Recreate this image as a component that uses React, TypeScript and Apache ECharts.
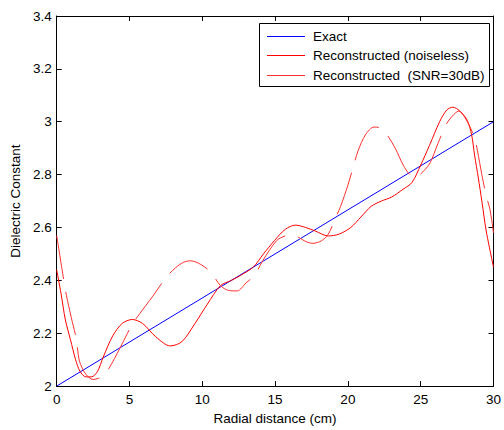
import React, { useEffect, useRef } from "react";
import * as echarts from "echarts";

const xTicks = [0, 5, 10, 15, 20, 25, 30];
const yTicks = [2, 2.2, 2.4, 2.6, 2.8, 3, 3.2, 3.4];

const exactX = [0, 30];
const exactY = [2, 3];

const noiselessX = [0, 0.3, 0.6, 0.95, 1.3, 1.6, 2.0, 2.4, 2.8, 3.2, 3.85, 4.5, 5.2, 5.9, 6.8, 7.8, 8.6, 9.5, 10.35, 11.25, 12.0, 12.6, 13.5, 14.2, 14.95, 15.7, 16.4, 17.1, 17.75, 18.65, 19.4, 20.2, 20.9, 21.6, 22.3, 23.0, 23.8, 24.4, 25.0, 25.6, 26.3, 26.8, 27.2, 27.7, 28.2, 28.5, 28.7, 28.96, 29.2, 29.5, 30];
const noiselessY = [2.44, 2.35, 2.25, 2.175, 2.1, 2.056, 2.035, 2.035, 2.055, 2.11, 2.19, 2.237, 2.252, 2.237, 2.187, 2.152, 2.168, 2.237, 2.31, 2.38, 2.4, 2.418, 2.45, 2.5, 2.55, 2.593, 2.609, 2.6, 2.587, 2.568, 2.575, 2.6, 2.64, 2.68, 2.7, 2.715, 2.745, 2.77, 2.836, 2.91, 3.0, 3.045, 3.055, 3.04, 3.005, 2.95, 2.874, 2.787, 2.7, 2.587, 2.45];

const noisyX = [0, 0.49, 0.67, 1.0, 1.34, 1.57, 2.0, 2.5, 2.9, 3.3, 3.8, 4.5, 5.15, 5.65, 6.6, 7.5, 8.15, 8.7, 9.2, 9.9, 10.6, 11.25, 11.8, 12.4, 13.0, 13.6, 14.15, 15.1, 15.7, 16.2, 16.7, 17.1, 17.6, 18.2, 18.65, 19.1, 19.5, 20.0, 20.4, 20.7, 21.2, 21.8, 22.3, 22.7, 23.25, 23.8, 24.25, 24.7, 24.9, 25.6, 26.2, 26.75, 27.15, 27.6, 28.1, 28.7, 28.9, 29.2, 29.5, 29.75, 30];
const noisyY = [2.57, 2.4, 2.343, 2.26, 2.18, 2.094, 2.045, 2.025, 2.03, 2.044, 2.087, 2.16, 2.23, 2.27, 2.34, 2.41, 2.447, 2.468, 2.474, 2.46, 2.43, 2.38, 2.362, 2.36, 2.39, 2.42, 2.474, 2.55, 2.568, 2.572, 2.56, 2.547, 2.54, 2.55, 2.574, 2.63, 2.68, 2.76, 2.836, 2.89, 2.95, 2.98, 2.975, 2.95, 2.9, 2.836, 2.8, 2.79, 2.797, 2.84, 2.92, 2.99, 3.02, 3.04, 3.01, 2.94, 2.89, 2.8, 2.72, 2.67, 2.58];

const seriesNames = ["Exact", "Reconstructed (noiseless)", "Reconstructed  (SNR=30dB)"];
const seriesColors = ["#0000ff", "#ff0000", "#ff3030"];

const zip = (xs: number[], ys: number[]) => xs.map((x, i) => [x, ys[i]]);

const FONT = "Liberation Sans, Arial, sans-serif";

// legend layout (drawn with graphic elements)
const LEG_BOX = { x: 259.5, y: 23.5, width: 230, height: 63 };
const LEG_ROWS_Y = [36.5, 55.5, 75.5];
const LEG_ICON_X = [267, 305];
const LEG_TEXT_X = 313;

export default function App() {
  const ref = useRef<HTMLDivElement>(null);
  useEffect(() => {
    if (!ref.current) return;
    const chart = echarts.init(ref.current, null, { renderer: "svg" });
    const axisCommon = {
      type: "value" as const,
      axisLine: { show: true, onZero: false, lineStyle: { color: "#000", width: 1 } },
      axisTick: { show: true, inside: true, length: 5, lineStyle: { color: "#000" } },
      splitLine: { show: false },
    };
    const legendGraphic: any[] = [
      {
        type: "rect",
        z: 100,
        silent: true,
        shape: LEG_BOX,
        style: { fill: "#fff", stroke: "#000", lineWidth: 1 },
      },
    ];
    seriesNames.forEach((n, i) => {
      const y = LEG_ROWS_Y[i];
      legendGraphic.push({
        type: "line",
        z: 101,
        silent: true,
        shape: { x1: LEG_ICON_X[0], y1: y, x2: LEG_ICON_X[1], y2: y },
        style: { stroke: seriesColors[i], lineWidth: 1 },
      });
      legendGraphic.push({
        type: "text",
        z: 101,
        silent: true,
        x: LEG_TEXT_X,
        y: y,
        style: {
          text: n,
          fontFamily: FONT,
          fontSize: 13.5,
          fill: "#000",
          verticalAlign: "middle",
          align: "left",
        },
      });
    });
    chart.setOption({
      animation: false,
      backgroundColor: "#fff",
      color: seriesColors,
      grid: { left: 53, top: 16, width: 446, height: 374, containLabel: false },
      graphic: legendGraphic,
      xAxis: [
        {
          ...axisCommon,
          min: 0,
          max: 30,
          interval: 5,
          position: "bottom",
          name: "Radial distance (cm)",
          nameLocation: "middle",
          nameGap: 24,
          nameTextStyle: { fontFamily: FONT, fontSize: 13.5, color: "#000", verticalAlign: "top" },
          axisLabel: { fontFamily: FONT, fontSize: 13.5, color: "#000", margin: 6, formatter: (v: number) => (xTicks.includes(v) ? String(v) : "") },
        },
        {
          ...axisCommon,
          min: 0,
          max: 30,
          interval: 5,
          position: "top",
          axisLabel: { show: false },
        },
      ],
      yAxis: [
        {
          ...axisCommon,
          min: 2,
          max: 3.4,
          interval: 0.2,
          position: "left",
          name: "Dielectric Constant",
          nameLocation: "middle",
          nameGap: 30,
          nameTextStyle: { fontFamily: FONT, fontSize: 13.5, color: "#000" },
          axisLabel: { fontFamily: FONT, fontSize: 13.5, color: "#000", margin: 5, formatter: (v: number) => { const t = yTicks.find((y) => Math.abs(y - v) < 1e-6); return t === undefined ? "" : String(t); } },
        },
        {
          ...axisCommon,
          min: 2,
          max: 3.4,
          interval: 0.2,
          position: "right",
          axisLabel: { show: false },
        },
      ],
      series: [
        {
          name: seriesNames[0],
          type: "line",
          data: zip(exactX, exactY),
          symbol: "none",
          lineStyle: { color: seriesColors[0], width: 1 },
          itemStyle: { color: seriesColors[0] },
        },
        {
          name: seriesNames[1],
          type: "line",
          data: zip(noiselessX, noiselessY),
          symbol: "none",
          smooth: 0.3,
          lineStyle: { color: seriesColors[1], width: 1 },
          itemStyle: { color: seriesColors[1] },
        },
        {
          name: seriesNames[2],
          type: "line",
          data: zip(noisyX, noisyY),
          symbol: "none",
          smooth: 0.3,
          lineStyle: { color: seriesColors[2], width: 1, type: [44, 13] },
          itemStyle: { color: seriesColors[2] },
        },
      ],
    });
    return () => chart.dispose();
  }, []);
  return <div ref={ref} style={{ position: "fixed", left: 0, top: 0, width: 504, height: 430 }} />;
}
